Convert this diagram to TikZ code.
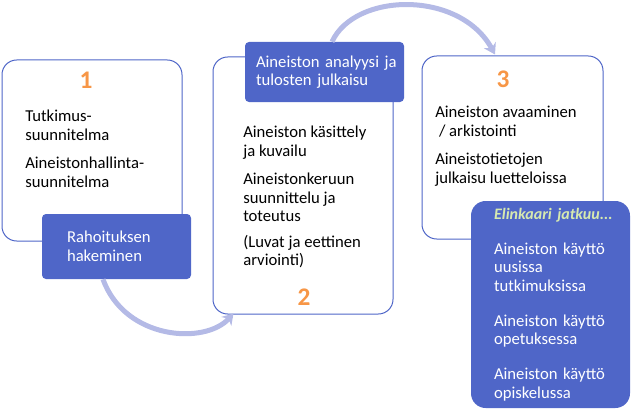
\documentclass[tikz,border=0pt]{standalone}
\usepackage{fontspec}
\setmainfont{Carlito}
\usetikzlibrary{arrows.meta,calc}
\definecolor{laatikko}{HTML}{4F66C8}
\definecolor{nuoli}{HTML}{B4BAE6}
\definecolor{numero}{HTML}{F79646}
\definecolor{jatko}{HTML}{D6E9B0}
\tikzset{
  vaihe/.style={draw=laatikko, fill=white, line width=0.75pt, rounded corners=11pt, inner sep=0pt},
  sininen/.style={fill=laatikko, text=white, rounded corners=3pt, align=left, inner ysep=0pt,
    font=\fontsize{12.5}{14}\selectfont},
  teksti/.style={anchor=north west, align=left, inner sep=0pt, font=\fontsize{12.5}{14}\selectfont},
  nro/.style={text=numero, inner sep=0pt, font=\fontsize{19}{19}\selectfont\bfseries},
  kaari/.style={draw=nuoli, line width=3.75pt, -{Stealth[length=8pt,width=10pt]}}
}
\begin{document}
\begin{tikzpicture}[x=0.75pt,y=-0.75pt]
\useasboundingbox (0,0) rectangle (631,410);
% vaiheiden laatikot
\node[vaihe, minimum width=135pt, minimum height=135.75pt] (vaihe1) at (92,150.5) {};
\node[vaihe, minimum width=135pt, minimum height=192.75pt] (vaihe2) at (303,185.5) {};
\node[vaihe, minimum width=135.75pt, minimum height=137.25pt] (vaihe3) at (512.5,147.5) {};
% numerot
\node[nro] (n1) at (86,80) {1};
\node[nro] (n2) at (304,297) {2};
\node[nro] (n3) at (503,79) {3};
% vaihe 1
\node[teksti] (t1) at (25,110) {Tutkimus-\\suunnitelma\\[7pt]Aineistonhallinta-\\suunnitelma};
\node[sininen, inner xsep=18.75pt, text width=74.25pt, minimum height=48.75pt] (haku) at (116.5,246.5)
  {Rahoituksen\\hakeminen};
% vaihe 2
\node[sininen, inner xsep=8.25pt, text width=102.75pt, minimum height=45pt] (analyysi) at (324.5,72)
  {\mbox{Aineiston analyysi ja}\\tulosten julkaisu};
\node[teksti] (t2) at (243,126) {Aineiston käsittely\\ja kuvailu\\[7pt]Aineistonkeruun\\suunnittelu ja\\toteutus\\[5pt](Luvat ja eettinen\\arviointi)};
% vaihe 3
\node[teksti] (t3) at (435,106) {Aineiston avaaminen\\\ / arkistointi\\[7pt]Aineistotietojen\\julkaisu luetteloissa};
\node[sininen, inner xsep=17.25pt, text width=84.75pt, minimum height=155.25pt, rounded corners=11pt] (jatkuu) at (550.5,304.5)
  {\mbox{\color{jatko}\fontsize{12}{14}\selectfont\bfseries\itshape Elinkaari jatkuu...}\\[12pt]Aineiston käyttö\\uusissa\\tutkimuksissa\\[12pt]Aineiston käyttö\\opetuksessa\\[12pt]Aineiston käyttö\\opiskelussa};
% kaaret
\draw[kaari] ($(haku.south)+(-13.5,0)$) .. controls (125,340) and (205,345) .. ($(vaihe2.south west)+(21,-1)$);
\draw[kaari] ($(analyysi.north)+(7.5,0)$) .. controls (355,-8) and (460,-10) .. ($(vaihe3.north)+(-17.5,-1)$);
\end{tikzpicture}
\end{document}
